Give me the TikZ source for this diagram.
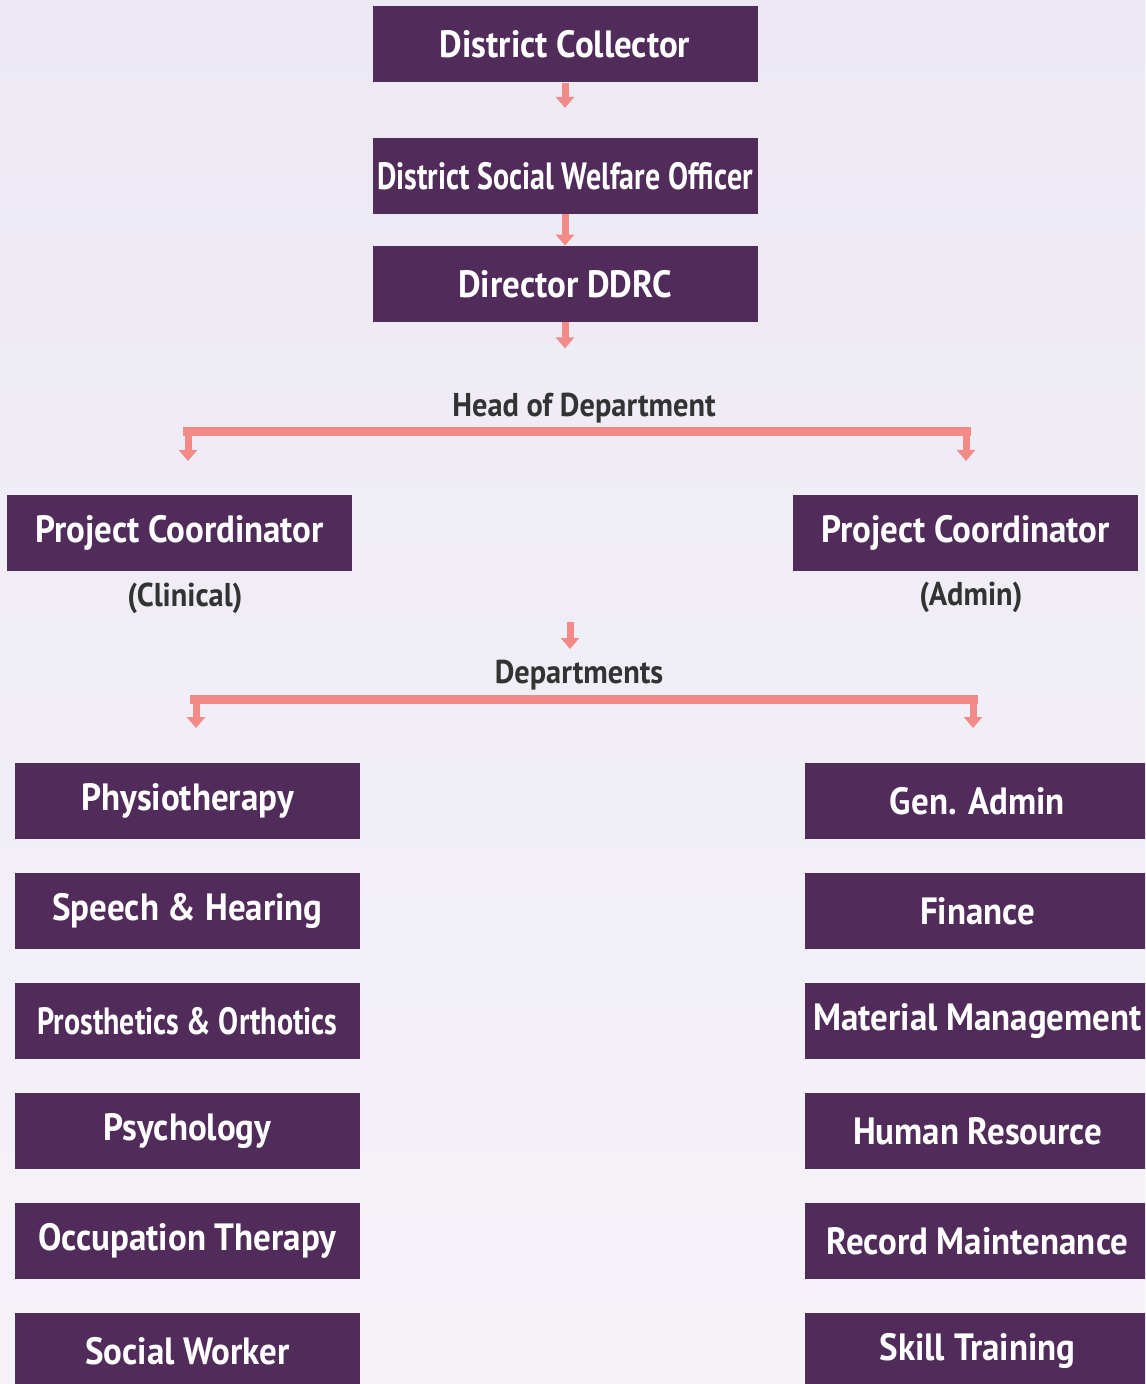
\documentclass[tikz,border=0pt]{standalone}
\usepackage{fontspec}
\setmainfont{PT Sans}[FakeStretch=0.92]
\newfontfamily\narrowfont{PT Sans}[FakeStretch=0.79]
\usetikzlibrary{arrows.meta}
\definecolor{boxc}{HTML}{512C5B}
\definecolor{arrc}{HTML}{F28A87}
\definecolor{bgtop}{HTML}{ECE9F4}
\definecolor{bgbot}{HTML}{F5F3F8}
\definecolor{labc}{HTML}{333333}
\begin{document}
\begin{tikzpicture}[
            x=0.5pt, y=-0.5pt,
            >={Triangle[width=9pt,length=5.5pt]},
            ent/.style={fill=boxc, text=white, font=\fontsize{19}{21}\selectfont\bfseries,
                        minimum width=172.5pt, minimum height=38pt, inner sep=0pt},
            tight/.style={font=\fontsize{19}{21}\selectfont\narrowfont\bfseries},
            top/.style={ent, minimum width=192.5pt},
            lab/.style={text=labc, font=\fontsize{16.5}{18}\selectfont\bfseries, inner sep=0pt},
            arr/.style={->, draw=arrc, fill=arrc, line width=3.5pt},
            bar/.style={draw=arrc, line width=4.5pt}
        ]
           \shade[top color=bgtop, bottom color=bgbot] (0,0) rectangle (1145,1384);
           \useasboundingbox (0,0) rectangle (1145,1384);
           \clip (0,0) rectangle (1145,1384);

           \node[top] (dc) at (565,44.5) {District Collector};
           \node[top, tight] (dswo) at (565,176) {District Social Welfare Officer};
           \node[top] (dir) at (565,284) {Director DDRC};

           \draw[arr] (dc.south) -- ++(0,25);
           \draw[arr] (dswo.south) -- (dir.north);
           \draw[arr] (dir.south) -- ++(0,26);

           \node[lab] (hod) at (584,408) {Head of Department};
           \coordinate (hl) at (183,432);
           \coordinate (hr) at (971,432);
           \draw[bar] (hl) -- (hr);
           \draw[arr] (hl) ++(5,-2) -- ++(0,31);
           \draw[arr] (hr) ++(-5,-2) -- ++(0,31);

           \node[ent] (pcc) at (179.5,533) {Project Coordinator};
           \node[ent] (pca) at (965.5,533) {Project Coordinator};
           \node[lab] (clin) at (185,598) {(Clinical)};
           \node[lab] (adm) at (971,597) {(Admin)};

           \coordinate (da) at (570,622);
           \draw[arr] (da) -- ++(0,27);
           \node[lab] (dep) at (579,675) {Departments};
           \coordinate (dl) at (190,699);
           \coordinate (dr) at (978,699);
           \draw[bar] (dl) -- (dr);
           \draw[arr] (dl) ++(6,-2) -- ++(0,31);
           \draw[arr] (dr) ++(-5,-2) -- ++(0,31);

           \node[ent] (phy) at (187.5,801) {Physiotherapy};
           \node[ent] (spe) at (187.5,911) {Speech \& Hearing};
           \node[ent, tight] (pro) at (187.5,1021) {Prosthetics \& Orthotics};
           \node[ent] (psy) at (187.5,1131) {Psychology};
           \node[ent] (occ) at (187.5,1241) {Occupation Therapy};
           \node[ent] (soc) at (187.5,1351) {Social Worker};

           \node[ent] (gen) at (977.5,801) {Gen. Admin};
           \node[ent] (fin) at (977.5,911) {Finance};
           \node[ent] (mat) at (977.5,1021) {Material Management};
           \node[ent] (hr) at (977.5,1131) {Human Resource};
           \node[ent] (rec) at (977.5,1241) {Record Maintenance};
           \node[ent] (ski) at (977.5,1351) {Skill Training};
        \end{tikzpicture}
\end{document}
